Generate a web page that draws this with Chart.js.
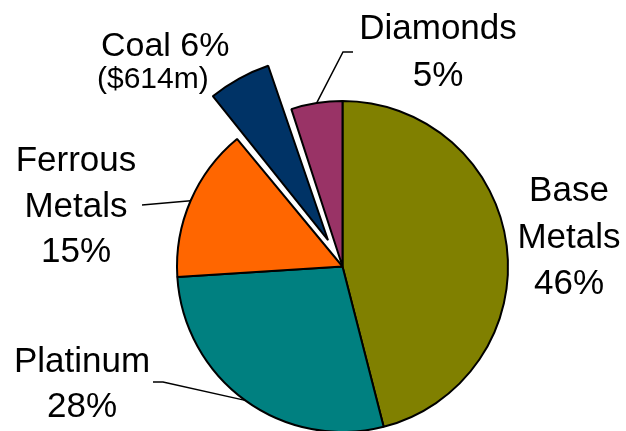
<!DOCTYPE html>
<html>
<head>
<meta charset="utf-8">
<script src="https://cdn.jsdelivr.net/npm/chart.js@4.4.0/dist/chart.umd.min.js"></script>
<style>
  html, body { margin: 0; padding: 0; background: #fff; }
  #wrap { width: 626px; height: 431px; }
</style>
</head>
<body>
<div id="wrap"><canvas id="pieChart" width="626" height="431"></canvas></div>
<script>
const segments = ['Base Metals', 'Platinum', 'Ferrous Metals', 'Coal', 'Diamonds'];
const shares = [46, 28, 15, 6, 5];
const notes = ['', '', '', '($614m)', ''];
const colours = ['#808000', '#008080', '#FF6600', '#003366', '#993366'];
const pulled = [0, 0, 0, 120, 0];

// where each label sits: text lines, centre x, first baseline, optional leader elbow
const labelSpots = [
    { lines: ['Base', 'Metals', '46%'], x: 569, y: 201, step: 46.5 },
    { lines: ['Platinum', '28%'], x: 82, y: 372, step: 45, leader: [[153, 382], [163, 382]] },
    { lines: ['Ferrous', 'Metals', '15%'], x: 76, y: 171, step: 45.5, leader: [[142, 205]] },
    { lines: ['Coal 6%'], x: 101, y: 56, step: 0, align: 'left', size: 34 },
    { lines: ['Diamonds', '5%'], x: 438, y: 39, step: 47, leader: [[353, 52], [343, 52]] },
];

const pieLabels = {
    id: 'pieLabels',
    afterDraw(chart) {
        const ctx = chart.ctx;
        const arcs = chart.getDatasetMeta(0).data;
        ctx.save();
        ctx.fillStyle = '#000';
        ctx.strokeStyle = '#000';
        ctx.lineWidth = 1.5;
        ctx.textBaseline = 'alphabetic';
        labelSpots.forEach((spot, i) => {
            ctx.font = (spot.size || 35) + 'px "Liberation Sans", Arial, sans-serif';
            ctx.textAlign = spot.align || 'center';
            spot.lines.forEach((t, k) => ctx.fillText(t, spot.x, spot.y + k * spot.step));
            if (notes[i]) {
                ctx.font = '30px "Liberation Sans", Arial, sans-serif';
                ctx.textAlign = 'left';
                ctx.fillText(notes[i], 97, 88);
            }
            if (spot.leader) {
                const a = arcs[i];
                const mid = (a.startAngle + a.endAngle) / 2;
                const ex = a.x + Math.cos(mid) * a.outerRadius;
                const ey = a.y + Math.sin(mid) * a.outerRadius;
                ctx.beginPath();
                ctx.moveTo(spot.leader[0][0], spot.leader[0][1]);
                spot.leader.slice(1).forEach(p => ctx.lineTo(p[0], p[1]));
                ctx.lineTo(ex, ey);
                ctx.stroke();
            }
        });
        ctx.restore();
    }
};

new Chart(document.getElementById('pieChart'), {
    type: 'pie',
    data: {
        labels: segments,
        datasets: [{
            data: shares,
            backgroundColor: colours,
            borderColor: '#000',
            borderWidth: 2,
            offset: pulled,
            hoverOffset: 0
        }]
    },
    options: {
        responsive: false,
        animation: false,
        events: [],
        radius: 165.5,
        layout: { padding: { left: 59, right: 0, top: 102, bottom: 0 } },
        plugins: {
            legend: { display: false },
            tooltip: { enabled: false }
        }
    },
    plugins: [pieLabels]
});
</script>
</body>
</html>
